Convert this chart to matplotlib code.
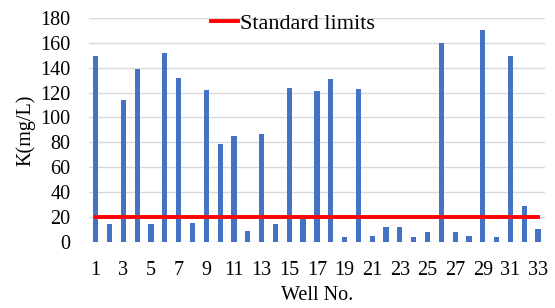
import matplotlib
matplotlib.use("Agg")
import matplotlib.pyplot as plt
import numpy as np

# ---------------- data ----------------
wells = list(range(1, 34))
k_values = [149, 14, 114, 139, 14, 152, 132, 15, 122, 79, 85, 9, 87, 14, 124, 19,
            121, 131, 4, 123, 5, 12, 12, 4, 8, 160, 8, 5, 170, 4, 149, 29, 10]
standard_limit = [20] * len(wells)
tick_labels = [str(w) for w in wells[::2]]

plt.rcParams['font.family'] = ['Liberation Serif', 'DejaVu Serif']

fig = plt.figure(figsize=(5.55, 3.08), dpi=100)
ax = fig.add_axes([0.16, 0.215, 0.822, 0.727])

x = np.arange(len(wells))
ax.bar(x, k_values, width=0.38, color='#4472C4', zorder=3)
ax.plot(x, standard_limit, color='#FF0000', linewidth=2.8, zorder=4, label='Standard limits')

ax.set_ylim(0, 180)
ax.set_yticks(range(0, 181, 20))
ax.set_xlim(-0.5, len(wells) - 0.5)
ax.set_xticks(x[::2])
ax.set_xticklabels(tick_labels)
ax.tick_params(axis='both', length=0, labelsize=14.5)
ax.tick_params(axis='x', pad=14)
ax.tick_params(axis='y', pad=13)
ax.yaxis.grid(True, color='#D9D9D9', linewidth=1, zorder=0)
for s in ax.spines.values():
    s.set_visible(False)

ax.set_ylabel('K(mg/L)', fontsize=14.5, labelpad=4)
ax.set_xlabel('Well No.', fontsize=14.5, labelpad=4)

ax.legend(loc='center left', bbox_to_anchor=(200 / 555, 1 - 24 / 308),
          bbox_transform=fig.transFigure, frameon=False, borderpad=0,
          fontsize=16, handlelength=1.2, handletextpad=0.1)

fig.savefig('out.png', dpi=100)
